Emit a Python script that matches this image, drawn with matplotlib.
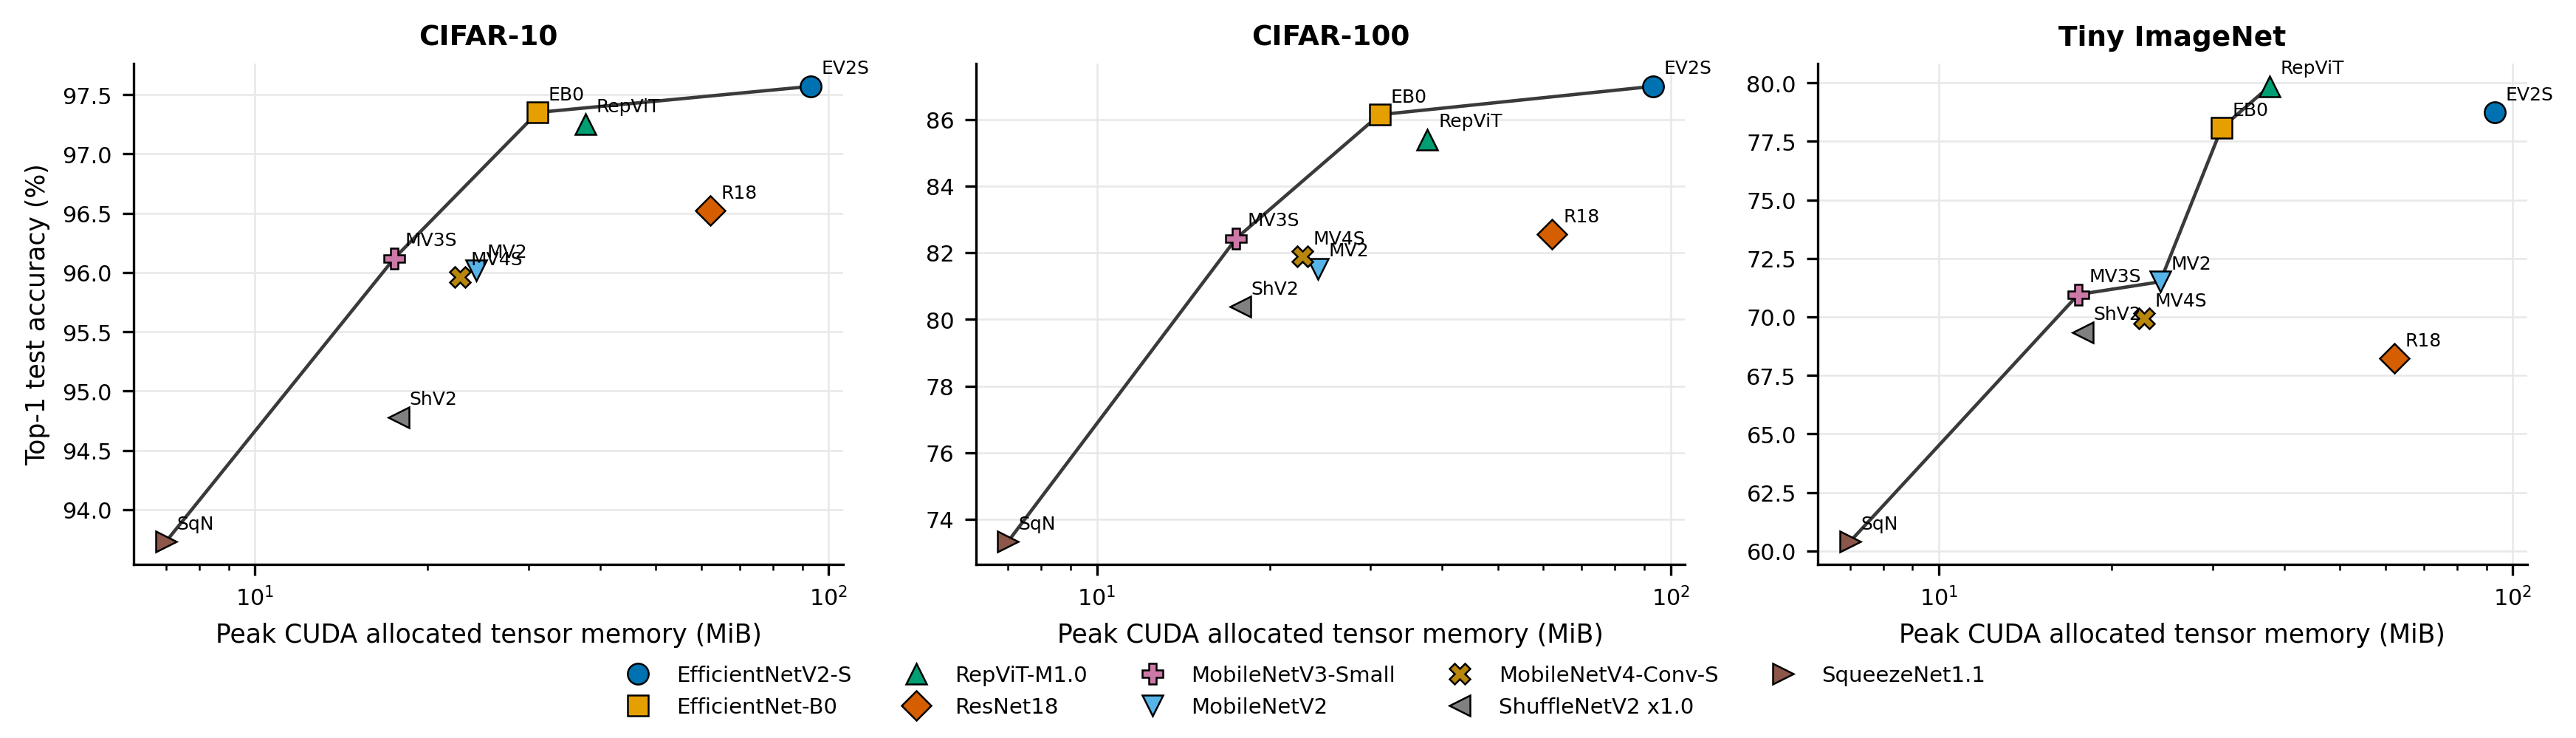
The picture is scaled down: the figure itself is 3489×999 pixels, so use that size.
import numpy as np
import matplotlib
matplotlib.use("Agg")
import matplotlib.pyplot as plt

# model names / short labels / styling
models = ["EfficientNetV2-S", "EfficientNet-B0", "RepViT-M1.0", "ResNet18",
          "MobileNetV3-Small", "MobileNetV2", "MobileNetV4-Conv-S",
          "ShuffleNetV2 x1.0", "SqueezeNet1.1"]
short = ["EV2S", "EB0", "RepViT", "R18", "MV3S", "MV2", "MV4S", "ShV2", "SqN"]
markers = ["o", "s", "^", "D", "P", "v", "X", "<", ">"]
colors = ["#0072B2", "#E69F00", "#009E73", "#D55E00", "#CC79A7",
          "#56B4E9", "#B8860B", "#808080", "#8C564B"]

# peak CUDA allocated tensor memory (MiB), same for every dataset
memory = [93.1, 31.1, 37.7, 62.2, 17.5, 24.3, 22.8, 17.8, 7.0]

datasets = ["CIFAR-10", "CIFAR-100", "Tiny ImageNet"]
acc_cifar10 = [97.57, 97.35, 97.25, 96.52, 96.12, 96.02, 95.96, 94.78, 93.73]
acc_cifar100 = [86.99, 86.14, 85.40, 82.55, 82.43, 81.52, 81.88, 80.38, 73.33]
acc_tiny = [78.73, 78.07, 79.85, 68.22, 70.96, 71.50, 69.93, 69.35, 60.40]
accs = [acc_cifar10, acc_cifar100, acc_tiny]


def pareto(mem, acc):
    # points not beaten by any cheaper model
    order = np.argsort(mem)
    best = -np.inf
    keep = []
    for i in order:
        if acc[i] > best:
            keep.append(i)
            best = acc[i]
    return keep


fig, axes = plt.subplots(1, 3, figsize=(11.63, 3.333), dpi=300)
fig.subplots_adjust(left=0.0519, right=0.981, bottom=0.235, top=0.913, wspace=0.187)

for ax, name, acc in zip(axes, datasets, accs):
    front = pareto(memory, acc)
    ax.plot([memory[i] for i in front], [acc[i] for i in front],
            color="#3a3a3a", lw=1.1, zorder=2)
    for i in range(len(models)):
        ax.plot(memory[i], acc[i], linestyle="none", marker=markers[i],
                ms=6.8, mfc=colors[i], mec="black", mew=0.6,
                label=models[i], zorder=3)
        ax.annotate(short[i], (memory[i], acc[i]), xytext=(3.5, 3),
                    textcoords="offset points", fontsize=6,
                    ha="left", va="bottom", zorder=4)
    ax.set_xscale("log")
    ax.set_title(name, fontsize=9, fontweight="bold")
    ax.set_xlabel("Peak CUDA allocated tensor memory (MiB)", fontsize=8.3)
    ax.grid(True, which="major", color="#e8e8e8", lw=0.6)
    ax.set_axisbelow(True)
    ax.tick_params(labelsize=7.3)
    ax.spines["top"].set_visible(False)
    ax.spines["right"].set_visible(False)

axes[0].set_ylabel("Top-1 test accuracy (%)", fontsize=8.3)

handles, labels = axes[0].get_legend_handles_labels()
fig.legend(handles, labels, loc="upper center", bbox_to_anchor=(0.505, 0.125),
           ncol=5, frameon=False, fontsize=7)

fig.savefig("out.png", dpi=300)
